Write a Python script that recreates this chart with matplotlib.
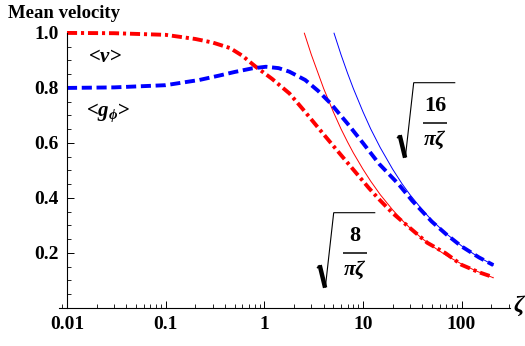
import matplotlib
matplotlib.use("Agg")
import matplotlib.pyplot as plt
from matplotlib.lines import Line2D
from matplotlib.ticker import FixedLocator, MultipleLocator, LogLocator, NullFormatter

plt.rcParams["font.family"] = ["Liberation Serif", "DejaVu Serif"]
plt.rcParams["font.weight"] = "bold"
plt.rcParams["mathtext.fontset"] = "custom"
plt.rcParams["mathtext.rm"] = "Liberation Serif:bold"
plt.rcParams["mathtext.it"] = "Liberation Serif:bold:italic"
plt.rcParams["mathtext.bf"] = "Liberation Serif:bold"
plt.rcParams["mathtext.fallback"] = "stix"

# <v> (red dash-dot)
zeta_v = [0.01, 0.03, 0.1, 0.2, 0.3, 0.45, 0.6, 0.82, 1.2, 1.8, 2.5, 3.9, 6, 8,
          11.5, 14.6, 20, 31.6, 45, 69, 100, 150, 210]
v_mean = [1.0, 0.999, 0.993, 0.978, 0.965, 0.945, 0.917, 0.877, 0.833, 0.78, 0.72,
          0.636, 0.556, 0.503, 0.436, 0.395, 0.345, 0.284, 0.237, 0.199, 0.157,
          0.13, 0.112]

# <g_phi> (blue dashed)
zeta_g = [0.01, 0.03, 0.1, 0.22, 0.35, 0.5, 0.75, 1.04, 1.4, 1.8, 2.6, 3.5, 4.7,
          7, 10, 14.6, 23, 31.6, 50, 70, 100, 150, 210]
g_mean = [0.80, 0.802, 0.81, 0.829, 0.845, 0.858, 0.871, 0.877, 0.872, 0.859,
          0.829, 0.79, 0.744, 0.67, 0.60, 0.524, 0.45, 0.39, 0.314, 0.268, 0.224,
          0.184, 0.156]

# large-zeta asymptotes (thin lines)
zeta_a8 = [2.55, 3, 4, 5, 6, 7, 8, 10, 12, 15, 20, 25, 30, 40, 50, 70, 100, 140, 210]
asym_8 = [0.999, 0.921, 0.798, 0.714, 0.651, 0.603, 0.564, 0.505, 0.461, 0.412,
          0.357, 0.319, 0.291, 0.252, 0.226, 0.191, 0.160, 0.135, 0.110]
zeta_a16 = [5.1, 6, 7, 8, 10, 12, 15, 20, 25, 30, 40, 50, 70, 100, 140, 210]
asym_16 = [0.999, 0.921, 0.853, 0.798, 0.714, 0.651, 0.583, 0.505, 0.451, 0.412,
           0.357, 0.319, 0.270, 0.226, 0.191, 0.156]

x_ticks = [0.01, 0.1, 1, 10, 100]
x_labels = ["0.01", "0.1", "1", "10", "100"]
y_ticks = [0.2, 0.4, 0.6, 0.8, 1.0]
y_labels = ["0.2", "0.4", "0.6", "0.8", "1.0"]

W, H = 525, 346
fig = plt.figure(figsize=(W / 100, H / 100), dpi=100)
ax = fig.add_axes([59 / W, 1 - 308 / H, (510 - 59) / W, (308 - 31) / H])


def fx(x):
    return x / W


def fy(y):
    return 1 - y / H


def sqrt_label(numer, tx, ty):
    # radical drawn by hand, (tx, ty) = top corner of the radical in pixels
    def seg(pts, lw):
        fig.add_artist(Line2D([fx(tx + p[0]) for p in pts], [fy(ty + p[1]) for p in pts],
                              transform=fig.transFigure, color="black", lw=lw,
                              solid_capstyle="butt", solid_joinstyle="miter"))
    seg([(-16.7, 55.5), (-14.0, 52.5)], 1.0)
    seg([(-14.0, 52.5), (-8.6, 75.0)], 3.2)
    seg([(-8.4, 75.0), (0, 0), (41.6, 0)], 0.8)
    seg([(9.5, 40), (33.5, 40)], 1.1)
    fig.text(fx(tx + 21.5), fy(ty + 23.5), numer, fontsize=16, fontweight="bold",
             ha="center", va="center")
    fig.text(fx(tx + 21), fy(ty + 57), r"$\pi\zeta$", fontsize=15.5,
             ha="center", va="center")


ax.plot(zeta_a8, asym_8, color="red", lw=0.7)
ax.plot(zeta_a16, asym_16, color="blue", lw=0.7)
ax.plot(zeta_v, v_mean, color="red", lw=2.8, dashes=(2.6, 1.0, 0.8, 1.0),
        dash_capstyle="butt")
ax.plot(zeta_g, g_mean, color="blue", lw=2.8, dashes=(2.6, 1.2),
        dash_capstyle="butt")

ax.set_xscale("log")
ax.set_xlim(0.0083, 310)
ax.set_ylim(0, 1.007)

for s in ["top", "right"]:
    ax.spines[s].set_visible(False)
ax.spines["left"].set_position(("data", 0.01))
ax.spines["left"].set_bounds(0, 1.0)
ax.spines["left"].set_linewidth(0.8)
ax.spines["bottom"].set_linewidth(0.8)

ax.xaxis.set_major_locator(FixedLocator(x_ticks))
ax.set_xticklabels(x_labels)
ax.xaxis.set_minor_locator(LogLocator(base=10, subs=range(2, 10)))
ax.xaxis.set_minor_formatter(NullFormatter())
ax.yaxis.set_major_locator(FixedLocator(y_ticks))
ax.set_yticklabels(y_labels)
ax.yaxis.set_minor_locator(MultipleLocator(0.05))
ax.tick_params(which="major", direction="in", length=5, width=0.7, labelsize=14, pad=6)
ax.tick_params(which="minor", direction="in", length=3, width=0.6)

fig.text(8 / W, 1 - 13 / H, "Mean velocity", fontsize=13.5, fontweight="bold",
         va="center", ha="left")
fig.text(520 / W, 1 - 306 / H, r"$\zeta$", fontsize=17, va="center", ha="center")
fig.text(105 / W, 1 - 57 / H, r"<$v$>", fontsize=15, va="center", ha="center")
fig.text(108 / W, 1 - 113 / H, r"<$g_\phi$>", fontsize=15, va="center", ha="center")
sqrt_label("16", 413.7, 82.7)
sqrt_label("8", 333.7, 212.7)

fig.savefig("out.png", dpi=100)
